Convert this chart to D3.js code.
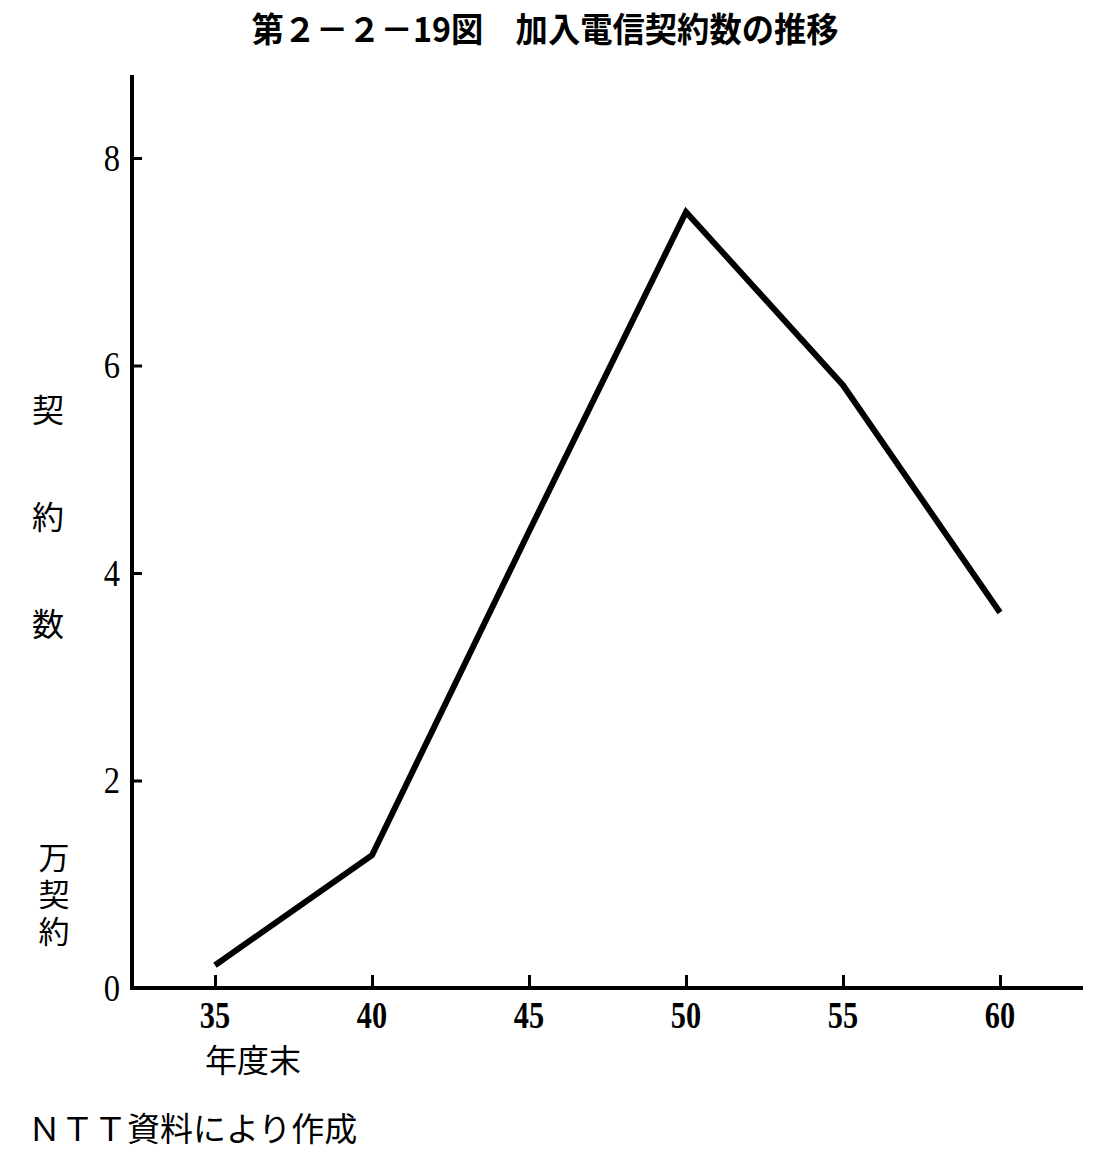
<!DOCTYPE html>
<html><head><meta charset="utf-8">
<script src="https://cdn.jsdelivr.net/npm/d3@7"></script>
<style>body{margin:0;background:#fff}</style>
</head><body>
<svg id="c" width="1105" height="1161"></svg>
<script>
const years = [35, 40, 45, 50, 55, 60];
const contracts = [0.22, 1.28, 4.4, 7.48, 5.81, 3.62];
const yTicks = [0, 2, 4, 6, 8];
const xTicks = [35, 40, 45, 50, 55, 60];
const titleText = "第２－２－19図　加入電信契約数の推移";
const yLabelChars = ["契", "約", "数"];
const unitText = "万契約";
const xLabel = "年度末";
const sourceText = "ＮＴＴ資料により作成";

const svg = d3.select("#c");
const x = d3.scaleLinear().domain([35, 60]).range([215, 1000]);
const y = d3.scaleLinear().domain([0, 8]).range([988, 158]);
const axisX = 132;
const serif = "'Liberation Serif','DejaVu Serif',serif";
const cjk = "'Noto Sans CJK JP',sans-serif";

// title
svg.append("text").attr("x", 545).attr("y", 42).attr("text-anchor", "middle")
  .attr("font-family", cjk).attr("font-weight", "bold").attr("font-size", 34)
  .attr("transform", "translate(545,0) scale(0.95,1) translate(-545,0)")
  .text(titleText);

// y axis
const gy = svg.append("g").attr("transform", `translate(${axisX},0)`)
  .call(d3.axisRight(y).tickValues(yTicks).tickSize(10).tickFormat(""));
gy.select(".domain").remove();
gy.selectAll("line").attr("stroke", "#000").attr("stroke-width", 3);
svg.append("line").attr("x1", axisX).attr("x2", axisX).attr("y1", 75).attr("y2", y(0) + 2)
  .attr("stroke", "#000").attr("stroke-width", 4);
svg.selectAll(".ylab").data(yTicks).enter().append("text")
  .attr("x", 120).attr("y", d => y(d) + 13).attr("text-anchor", "end")
  .attr("font-family", serif).attr("font-size", 37)
  .attr("transform", d => `translate(120,0) scale(0.88,1) translate(-120,0)`)
  .text(d => d);

// x axis
const gx = svg.append("g").attr("transform", `translate(0,${y(0)})`)
  .call(d3.axisTop(x).tickValues(xTicks).tickSize(13).tickFormat(""));
gx.select(".domain").remove();
gx.selectAll("line").attr("stroke", "#000").attr("stroke-width", 3);
svg.append("line").attr("x1", axisX - 2).attr("x2", 1083).attr("y1", y(0)).attr("y2", y(0))
  .attr("stroke", "#000").attr("stroke-width", 4);
svg.selectAll(".xlab").data(xTicks).enter().append("text")
  .attr("x", d => x(d)).attr("y", 1028).attr("text-anchor", "middle")
  .attr("font-family", serif).attr("font-size", 37).attr("font-weight", "bold")
  .attr("transform", d => `translate(${x(d)},0) scale(0.82,1) translate(${-x(d)},0)`)
  .text(d => d);

// axis labels
svg.selectAll(".yl").data(yLabelChars).enter().append("text")
  .attr("x", 48).attr("y", (d, i) => 422 + i * 107).attr("text-anchor", "middle")
  .attr("font-family", cjk).attr("font-size", 32).text(d => d);
svg.append("text").attr("x", 54).attr("y", 842)
  .attr("writing-mode", "tb").style("writing-mode", "vertical-rl")
  .attr("letter-spacing", 6)
  .attr("font-family", cjk).attr("font-size", 31).text(unitText);
svg.append("text").attr("x", 205).attr("y", 1072)
  .attr("font-family", cjk).attr("font-size", 32).text(xLabel);
svg.append("text").attr("x", 28).attr("y", 1141)
  .attr("font-family", cjk).attr("font-size", 33).text(sourceText);

// line
const data = years.map((yr, i) => [yr, contracts[i]]);
svg.append("path").datum(data)
  .attr("fill", "none").attr("stroke", "#000").attr("stroke-width", 6)
  .attr("stroke-linejoin", "miter")
  .attr("d", d3.line().x(d => x(d[0])).y(d => y(d[1])));
</script>
</body></html>
